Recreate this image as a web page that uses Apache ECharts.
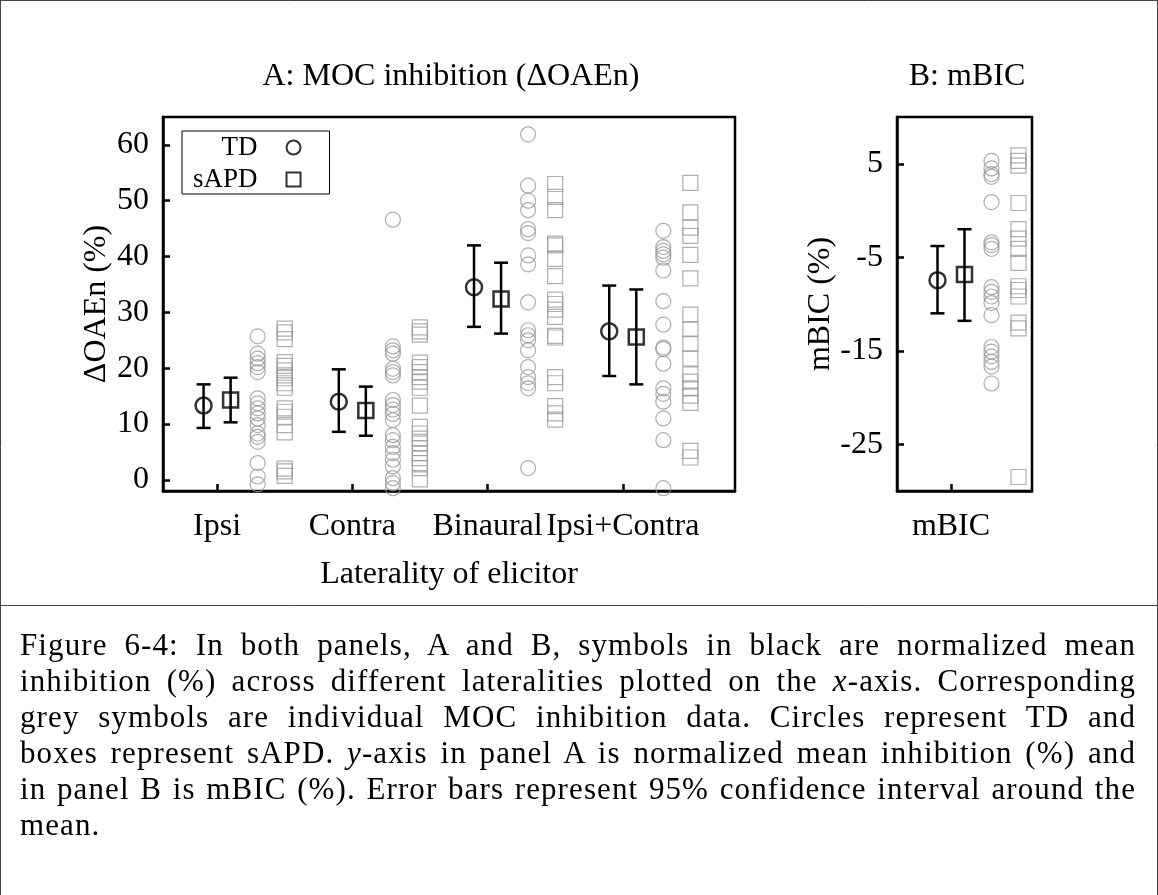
<!DOCTYPE html>
<html>
<head>
<meta charset="utf-8">
<script src="https://cdn.jsdelivr.net/npm/echarts@6/dist/echarts.min.js"></script>
<style>
  html, body { margin: 0; padding: 0; background: #fff; }
  #chart { position: absolute; left: 0; top: 0; width: 1158px; height: 895px; }
  #caption {
    position: absolute; left: 20px; top: 627px; width: 1116px;
    font-family: "Liberation Serif", "Times New Roman", serif;
    font-size: 31px; line-height: 36px; letter-spacing: 1.1px; color: #000;
  }
  #caption span { display: block; text-align: justify; text-align-last: justify; white-space: nowrap; }
  #caption span.last { text-align-last: left; }
</style>
</head>
<body>
<div id="chart"></div>
<div id="caption">
  <span>Figure 6-4: In both panels, A and B, symbols in black are normalized mean</span>
  <span>inhibition (%) across different lateralities plotted on the <i>x</i>-axis. Corresponding</span>
  <span>grey symbols are individual MOC inhibition data. Circles represent TD and</span>
  <span>boxes represent sAPD. <i>y</i>-axis in panel A is normalized mean inhibition (%) and</span>
  <span>in panel B is mBIC (%). Error bars represent 95% confidence interval around the</span>
  <span class="last">mean.</span>
</div>
<script>
// ---- Panel A: normalized MOC inhibition by elicitor laterality ----
const categories = ['Ipsi', 'Contra', 'Binaural', 'Ipsi+Contra'];
const yTicksA = [0, 10, 20, 30, 40, 50, 60];

const tdMean = [13.3, 14.0, 34.5, 26.6];
const tdLow = [9.3, 8.6, 27.4, 18.6];
const tdHigh = [17.1, 19.8, 42.0, 34.8];

const sapdMean = [14.3, 12.4, 32.4, 25.6];
const sapdLow = [10.3, 7.9, 26.2, 17.1];
const sapdHigh = [18.3, 16.7, 38.9, 34.1];

const tdIpsi = [25.7, 22.6, 21.7, 20.9, 20.2, 19.3, 14.6, 13.7, 12.8, 11.9, 11.0, 9.8, 8.3, 7.7, 6.8, 3.0, 0.6, -0.8];
const tdContra = [46.6, 23.9, 23.2, 22.6, 19.9, 19.3, 18.7, 14.3, 13.4, 12.6, 11.8, 10.7, 8.0, 7.1, 5.9, 4.8, 3.6, 2.4, 0.3, -0.6, -1.5];
const tdBinaural = [61.9, 52.7, 50.0, 48.3, 44.9, 44.2, 40.2, 38.6, 31.8, 26.8, 25.9, 25.0, 23.2, 20.2, 18.4, 17.3, 16.4, 2.1];
const tdIpsiContra = [44.6, 41.7, 41.0, 40.4, 39.8, 37.5, 32.0, 27.8, 23.7, 23.4, 20.8, 16.4, 15.4, 14.0, 11.0, 7.1, -1.5];

const sapdIpsi = [27.1, 26.4, 25.2, 21.1, 20.4, 19.6, 18.7, 18.2, 17.3, 16.5, 12.8, 12.2, 11.3, 9.8, 8.5, 2.0, 1.5, 0.7];
const sapdContra = [27.3, 26.6, 26.0, 21.0, 20.2, 19.3, 18.4, 17.6, 16.5, 13.3, 9.5, 8.3, 7.4, 6.5, 5.7, 4.8, 3.9, 3.0, 2.1, 0.1];
const sapdBinaural = [53.0, 50.7, 48.3, 42.3, 42.0, 39.6, 36.5, 32.3, 31.5, 30.5, 29.2, 25.8, 25.5, 18.4, 17.3, 13.2, 11.9, 10.8];
const sapdIpsiContra = [53.2, 47.9, 45.2, 43.7, 40.3, 36.1, 29.6, 27.0, 24.4, 21.7, 18.9, 17.6, 16.4, 15.1, 13.8, 5.2, 4.0];

// ---- Panel B: mBIC ----
const categoriesB = ['mBIC'];
const yTicksB = [-25, -15, -5, 5];
const mbicTdMean = [-7.45];
const mbicTdLow = [-11.0];
const mbicTdHigh = [-3.8];
const mbicSapdMean = [-6.85];
const mbicSapdLow = [-11.8];
const mbicSapdHigh = [-2.0];
const mbicTd = [5.3, 4.5, 3.9, 3.6, 0.9, -3.4, -3.7, -4.1, -8.2, -8.7, -9.2, -9.9, -11.2, -14.6, -15.1, -15.6, -16.2, -16.7, -18.5];
const mbicSapd = [5.9, 5.3, 4.8, 0.8, -2.0, -3.0, -4.1, -5.6, -8.1, -8.5, -9.2, -12.0, -12.6, -28.5];

// ---- drawing ----
const FONT = '"Liberation Serif", "Times New Roman", serif';
const GREY = '#9a9a9a';
// horizontal offsets of each group from its category position
const OFF_TD = -0.1, OFF_SAPD = 0.1, OFF_TD_IND = 0.3, OFF_SAPD_IND = 0.5;

function groupPoints(groups, offset) {
  const out = [];
  groups.forEach((vals, i) => vals.forEach(v => out.push([i + 1 + offset, v])));
  return out;
}
function meanPoints(means, offset) {
  return means.map((v, i) => [i + 1 + offset, v]);
}
function barPoints(lows, highs, offset) {
  return lows.map((lo, i) => [i + 1 + offset, lo, highs[i]]);
}
function renderErrorBar(params, api) {
  const x = api.value(0);
  const lo = api.coord([x, api.value(1)]);
  const hi = api.coord([x, api.value(2)]);
  const half = 7;
  const style = { stroke: '#000', lineWidth: 2.5, fill: null };
  return {
    type: 'group',
    children: [
      { type: 'line', shape: { x1: lo[0], y1: lo[1], x2: hi[0], y2: hi[1] }, style },
      { type: 'line', shape: { x1: lo[0] - half, y1: lo[1], x2: lo[0] + half, y2: lo[1] }, style },
      { type: 'line', shape: { x1: hi[0] - half, y1: hi[1], x2: hi[0] + half, y2: hi[1] }, style }
    ]
  };
}

const axisLineStyle = { color: '#000', width: 2.5 };
const labelStyle = { color: '#000', fontFamily: FONT, fontSize: 32 };

function xAxisCfg(gridIndex, max, cats, name) {
  const ticks = cats.map((c, i) => i + 1);
  return {
    type: 'value', gridIndex, min: 0.6, max,
    axisLine: { onZero: false, lineStyle: axisLineStyle },
    axisTick: { inside: true, length: 7, lineStyle: axisLineStyle, customValues: ticks },
    axisLabel: Object.assign({ customValues: ticks, margin: 20, formatter: v => cats[Math.round(v) - 1] }, labelStyle),
    splitLine: { show: false },
    name, nameLocation: 'middle', nameGap: 68,
    nameTextStyle: labelStyle
  };
}
function yAxisCfg(gridIndex, min, max, ticks, name, gap) {
  return {
    type: 'value', gridIndex, min, max,
    axisLine: { onZero: false, lineStyle: axisLineStyle },
    axisTick: { inside: true, length: 7, lineStyle: axisLineStyle, customValues: ticks },
    axisLabel: Object.assign({ customValues: ticks, margin: 14 }, labelStyle),
    splitLine: { show: false },
    name, nameLocation: 'middle', nameRotate: 90, nameGap: gap,
    nameTextStyle: labelStyle
  };
}

const hollow = c => ({ color: 'transparent', borderColor: c });

const chart = echarts.init(document.getElementById('chart'), null, { renderer: 'canvas' });
chart.setOption({
  animation: false,
  backgroundColor: '#fff',
  title: [
    { text: 'A: MOC inhibition (ΔOAEn)', left: 446, top: 56, textAlign: 'center',
      textStyle: { color: '#000', fontFamily: FONT, fontSize: 32, fontWeight: 'normal' } },
    { text: 'B: mBIC', left: 962, top: 56, textAlign: 'center',
      textStyle: { color: '#000', fontFamily: FONT, fontSize: 32, fontWeight: 'normal' } }
  ],
  legend: {
    data: ['TD', 'sAPD'],
    orient: 'vertical', align: 'right',
    left: 182, top: 131,
    padding: [3, 28, 1, 11],
    itemGap: 5, itemWidth: 14, itemHeight: 14,
    borderColor: '#000', borderWidth: 1,
    selectedMode: false,
    formatter: n => '{t|' + n + '}',
    textStyle: { rich: { t: { color: '#000', fontFamily: FONT, fontSize: 27, padding: [0, 24, 0, 0] } } }
  },
  grid: [
    { left: 163, top: 117, width: 572, height: 374, show: true, borderColor: '#000', borderWidth: 2.5 },
    { left: 897, top: 117, width: 135, height: 374, show: true, borderColor: '#000', borderWidth: 2.5 }
  ],
  xAxis: [
    xAxisCfg(0, 4.83, categories, 'Laterality of elicitor'),
    xAxisCfg(1, 1.6, categoriesB, '')
  ],
  yAxis: [
    yAxisCfg(0, -2, 65, yTicksA, 'ΔOAEn (%)', 50),
    yAxisCfg(1, -30, 10, yTicksB, 'mBIC (%)', 58)
  ],
  series: [
    // panel A individuals
    { type: 'scatter', name: 'TD individual', xAxisIndex: 0, yAxisIndex: 0, symbol: 'circle', symbolSize: 15,
      itemStyle: Object.assign(hollow(GREY), { borderWidth: 1.2 }),
      data: groupPoints([tdIpsi, tdContra, tdBinaural, tdIpsiContra], OFF_TD_IND) },
    { type: 'scatter', name: 'sAPD individual', xAxisIndex: 0, yAxisIndex: 0, symbol: 'rect', symbolSize: 15,
      itemStyle: Object.assign(hollow(GREY), { borderWidth: 1.2 }),
      data: groupPoints([sapdIpsi, sapdContra, sapdBinaural, sapdIpsiContra], OFF_SAPD_IND) },
    // panel A error bars
    { type: 'custom', name: 'TD CI', xAxisIndex: 0, yAxisIndex: 0, renderItem: renderErrorBar,
      encode: { x: 0, y: [1, 2] }, data: barPoints(tdLow, tdHigh, OFF_TD), z: 3 },
    { type: 'custom', name: 'sAPD CI', xAxisIndex: 0, yAxisIndex: 0, renderItem: renderErrorBar,
      encode: { x: 0, y: [1, 2] }, data: barPoints(sapdLow, sapdHigh, OFF_SAPD), z: 3 },
    // panel A means
    { type: 'scatter', name: 'TD', xAxisIndex: 0, yAxisIndex: 0, symbol: 'circle', symbolSize: 16,
      itemStyle: Object.assign(hollow('#000'), { borderWidth: 2.5 }), z: 4,
      data: meanPoints(tdMean, OFF_TD) },
    { type: 'scatter', name: 'sAPD', xAxisIndex: 0, yAxisIndex: 0, symbol: 'rect', symbolSize: 15,
      itemStyle: Object.assign(hollow('#000'), { borderWidth: 2.5 }), z: 4,
      data: meanPoints(sapdMean, OFF_SAPD) },
    // panel B
    { type: 'scatter', name: 'TD individual', xAxisIndex: 1, yAxisIndex: 1, symbol: 'circle', symbolSize: 15,
      itemStyle: Object.assign(hollow(GREY), { borderWidth: 1.2 }),
      data: groupPoints([mbicTd], OFF_TD_IND) },
    { type: 'scatter', name: 'sAPD individual', xAxisIndex: 1, yAxisIndex: 1, symbol: 'rect', symbolSize: 15,
      itemStyle: Object.assign(hollow(GREY), { borderWidth: 1.2 }),
      data: groupPoints([mbicSapd], OFF_SAPD_IND) },
    { type: 'custom', name: 'TD CI', xAxisIndex: 1, yAxisIndex: 1, renderItem: renderErrorBar,
      encode: { x: 0, y: [1, 2] }, data: barPoints(mbicTdLow, mbicTdHigh, OFF_TD), z: 3 },
    { type: 'custom', name: 'sAPD CI', xAxisIndex: 1, yAxisIndex: 1, renderItem: renderErrorBar,
      encode: { x: 0, y: [1, 2] }, data: barPoints(mbicSapdLow, mbicSapdHigh, OFF_SAPD), z: 3 },
    { type: 'scatter', name: 'TD', xAxisIndex: 1, yAxisIndex: 1, symbol: 'circle', symbolSize: 16,
      itemStyle: Object.assign(hollow('#000'), { borderWidth: 2.5 }), z: 4,
      data: meanPoints(mbicTdMean, OFF_TD) },
    { type: 'scatter', name: 'sAPD', xAxisIndex: 1, yAxisIndex: 1, symbol: 'rect', symbolSize: 15,
      itemStyle: Object.assign(hollow('#000'), { borderWidth: 2.5 }), z: 4,
      data: meanPoints(mbicSapdMean, OFF_SAPD) }
  ],
  graphic: [
    // figure frame and the rule above the caption
    { type: 'line', shape: { x1: 0, y1: 0.5, x2: 1158, y2: 0.5 }, style: { stroke: '#444', lineWidth: 1 } },
    { type: 'line', shape: { x1: 0.5, y1: 0, x2: 0.5, y2: 895 }, style: { stroke: '#444', lineWidth: 1 } },
    { type: 'line', shape: { x1: 1157.5, y1: 0, x2: 1157.5, y2: 895 }, style: { stroke: '#444', lineWidth: 1 } },
    { type: 'line', shape: { x1: 0, y1: 605.5, x2: 1158, y2: 605.5 }, style: { stroke: '#444', lineWidth: 1 } }
  ]
});
</script>
</body>
</html>
